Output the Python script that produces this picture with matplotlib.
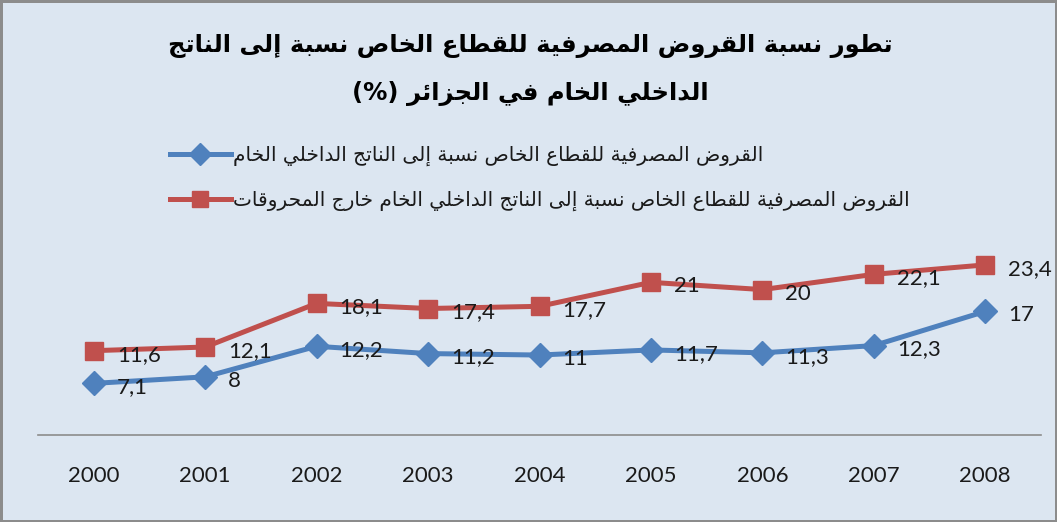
import matplotlib
matplotlib.use("Agg")
import matplotlib.pyplot as plt
from matplotlib.lines import Line2D

# --- data ---
years = ['2000', '2001', '2002', '2003', '2004', '2005', '2006', '2007', '2008']
credit_gdp = [7.1, 8, 12.2, 11.2, 11, 11.7, 11.3, 12.3, 17]
credit_gdp_nonhydro = [11.6, 12.1, 18.1, 17.4, 17.7, 21, 20, 22.1, 23.4]

title_lines = ['تطور نسبة القروض المصرفية للقطاع الخاص نسبة إلى الناتج',
               'الداخلي الخام في الجزائر (%)']
label_gdp = 'القروض المصرفية للقطاع الخاص نسبة إلى الناتج الداخلي الخام'
label_nonhydro = 'القروض المصرفية للقطاع الخاص نسبة إلى الناتج الداخلي الخام خارج المحروقات'

# --- minimal arabic shaping (matplotlib has no text shaping / bidi) ---
DUAL = {'ئ': 0xFE89, 'ب': 0xFE8F, 'ت': 0xFE95, 'ث': 0xFE99, 'ج': 0xFE9D,
        'ح': 0xFEA1, 'خ': 0xFEA5, 'س': 0xFEB1, 'ش': 0xFEB5, 'ص': 0xFEB9,
        'ض': 0xFEBD, 'ط': 0xFEC1, 'ظ': 0xFEC5, 'ع': 0xFEC9, 'غ': 0xFECD,
        'ف': 0xFED1, 'ق': 0xFED5, 'ك': 0xFED9, 'ل': 0xFEDD, 'م': 0xFEE1,
        'ن': 0xFEE5, 'ه': 0xFEE9, 'ي': 0xFEF1}
RIGHT = {'آ': 0xFE81, 'أ': 0xFE83, 'ؤ': 0xFE85, 'إ': 0xFE87, 'ا': 0xFE8D,
         'ة': 0xFE93, 'د': 0xFEA9, 'ذ': 0xFEAB, 'ر': 0xFEAD, 'ز': 0xFEAF,
         'و': 0xFEED, 'ى': 0xFEEF}
LAMALEF = {'آ': 0xFEF5, 'أ': 0xFEF7, 'إ': 0xFEF9, 'ا': 0xFEFB}


def ar(text):
    out = []
    n = len(text)
    i = 0
    while i < n:
        c = text[i]
        prev = text[i - 1] if i > 0 else ''
        nxt = text[i + 1] if i + 1 < n else ''
        if c == 'ل' and nxt in LAMALEF:
            out.append(chr(LAMALEF[nxt] + (1 if prev in DUAL else 0)))
            i += 2
            continue
        if c in DUAL:
            p = prev in DUAL
            q = nxt in DUAL or nxt in RIGHT
            idx = 3 if (p and q) else 1 if p else 2 if q else 0
            out.append(chr(DUAL[c] + idx))
        elif c in RIGHT:
            out.append(chr(RIGHT[c] + (1 if prev in DUAL else 0)))
        elif c == 'ء':
            out.append('\uFE80')
        else:
            out.append(c)
        i += 1
    s = ''.join(reversed(out))
    return s.translate(str.maketrans('()', ')('))


blue = '#4f81bd'
red = '#c0504d'
bg = '#dce6f1'

W, H = 1057, 522
fig = plt.figure(figsize=(W / 100, H / 100), dpi=100, facecolor=bg,
                 edgecolor='#8c8c8c', linewidth=2.5)

# axes: 0 at y=435px, 7.27 px per unit
ax = fig.add_axes([38 / W, 1 - 435 / H, 1003 / W, 200 / H])
ax.set_facecolor('none')
x = list(range(len(years)))
ax.plot(x, credit_gdp, color=blue, lw=3.6, marker='D', ms=12,
        solid_joinstyle='round')
ax.plot(x, credit_gdp_nonhydro, color=red, lw=3.6, marker='s', ms=13,
        solid_joinstyle='round')

for series in (credit_gdp, credit_gdp_nonhydro):
    for xi, v in zip(x, series):
        ax.annotate(f'{v:g}'.replace('.', ','), (xi, v), xytext=(23, -4),
                    textcoords='offset pixels', ha='left', va='center',
                    fontsize=16, family='Lato', color='#1a1a1a')

ax.set_xlim(-0.5, 8.5)
ax.set_ylim(0, 200 / 7.27)
ax.set_xticks(x)
ax.set_xticklabels(years, fontsize=16, family='Lato', color='#1a1a1a')
ax.tick_params(axis='x', length=0, pad=22)
ax.set_yticks([])
for side in ['top', 'left', 'right']:
    ax.spines[side].set_visible(False)
ax.spines['bottom'].set_color('#8c8c8c')
ax.spines['bottom'].set_linewidth(1.2)

# title
fig.text(530 / W, 1 - 46 / H, ar(title_lines[0]), ha='center', va='center',
         fontsize=17.5, fontweight='bold', family='DejaVu Sans', color='black')
fig.text(530 / W, 1 - 93 / H, ar(title_lines[1]), ha='center', va='center',
         fontsize=17.5, fontweight='bold', family='DejaVu Sans', color='black')

# legend
handles = [Line2D([], [], color=blue, lw=3.6, marker='D', ms=11),
           Line2D([], [], color=red, lw=3.6, marker='s', ms=12)]
leg = fig.legend(handles, [ar(label_gdp), ar(label_nonhydro)],
                 loc='upper left', bbox_to_anchor=(152 / W, 1 - 128 / H),
                 frameon=False, prop={'family': 'DejaVu Sans', 'size': 14.5},
                 handlelength=3.0, handletextpad=0.1, labelspacing=1.2)
for t in leg.get_texts():
    t.set_color('#1a1a1a')

fig.savefig('out.png', dpi=100)
